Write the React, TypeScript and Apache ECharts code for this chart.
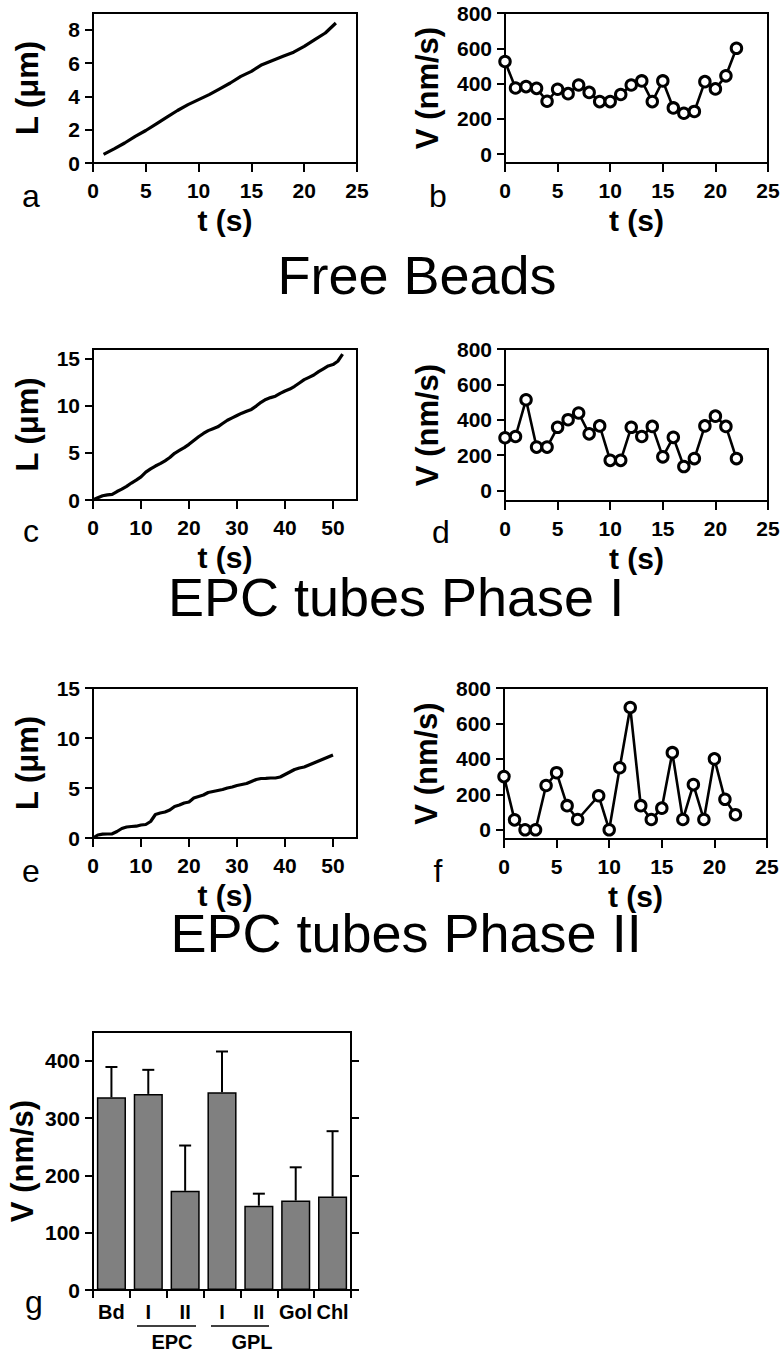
import React, { useEffect, useRef } from "react";
import * as echarts from "echarts";

// ---------- DATA ----------
// Panel a: Free Beads, L (µm) vs t (s)
const tA = [1, 2, 3, 4, 5, 6, 7, 8, 9, 10, 11, 12, 13, 14, 15, 16, 17, 18, 19, 20, 21, 22, 23];
const lA = [0.52, 0.85, 1.2, 1.6, 1.95, 2.35, 2.75, 3.15, 3.5, 3.8, 4.1, 4.45, 4.8, 5.2, 5.5, 5.9, 6.15, 6.4, 6.65, 7.0, 7.4, 7.8, 8.4];

// Panel b: Free Beads, V (nm/s) vs t (s)
const tB = [0, 1, 2, 3, 4, 5, 6, 7, 8, 9, 10, 11, 12, 13, 14, 15, 16, 17, 18, 19, 20, 21, 22];
const vB = [525, 375, 383, 373, 300, 368, 343, 392, 350, 298, 298, 338, 392, 415, 298, 415, 262, 232, 242, 411, 370, 444, 600];

// Panel c: EPC tubes Phase I, L vs t
const tC = [0, 1, 2, 3, 4, 5, 6, 7, 8, 9, 10, 11, 12, 13, 14, 15, 16, 17, 18, 19, 20, 21, 22, 23, 24, 25, 26, 27, 28, 29, 30, 31, 32, 33, 34, 35, 36, 37, 38, 39, 40, 41, 42, 43, 44, 45, 46, 47, 48, 49, 50, 51, 52];
const lC = [0, 0.25, 0.45, 0.55, 0.6, 0.9, 1.15, 1.45, 1.8, 2.1, 2.45, 2.95, 3.3, 3.6, 3.85, 4.15, 4.5, 4.95, 5.25, 5.55, 5.9, 6.3, 6.7, 7.05, 7.35, 7.55, 7.75, 8.1, 8.45, 8.7, 8.95, 9.2, 9.4, 9.6, 9.95, 10.35, 10.65, 10.85, 11.0, 11.3, 11.55, 11.75, 12.05, 12.4, 12.75, 13.0, 13.25, 13.6, 13.9, 14.2, 14.35, 14.7, 15.45];

// Panel d: EPC tubes Phase I, V vs t
const tD = [0, 1, 2, 3, 4, 5, 6, 7, 8, 9, 10, 11, 12, 13, 14, 15, 16, 17, 18, 19, 20, 21, 22];
const vD = [298, 305, 513, 245, 245, 357, 400, 438, 320, 365, 170, 170, 357, 305, 362, 190, 300, 135, 180, 365, 420, 362, 180];

// Panel e: EPC tubes Phase II, L vs t
const tE = [0, 1, 2, 3, 4, 5, 6, 7, 8, 9, 10, 11, 12, 13, 14, 15, 16, 17, 18, 19, 20, 21, 22, 23, 24, 25, 26, 27, 28, 29, 30, 31, 32, 33, 34, 35, 36, 37, 38, 39, 40, 41, 42, 43, 44, 45, 46, 47, 48, 49, 50];
const lE = [0, 0.3, 0.38, 0.4, 0.42, 0.65, 0.95, 1.1, 1.15, 1.18, 1.3, 1.35, 1.65, 2.35, 2.5, 2.6, 2.8, 3.15, 3.3, 3.5, 3.6, 4.0, 4.15, 4.3, 4.55, 4.65, 4.75, 4.85, 5.0, 5.1, 5.25, 5.35, 5.45, 5.65, 5.85, 5.95, 5.97, 6.0, 6.0, 6.1, 6.35, 6.6, 6.85, 7.0, 7.1, 7.3, 7.5, 7.7, 7.9, 8.1, 8.3];

// Panel f: EPC tubes Phase II, V vs t (no point at t = 8)
const tF = [0, 1, 2, 3, 4, 5, 6, 7, 9, 10, 11, 12, 13, 14, 15, 16, 17, 18, 19, 20, 21, 22];
const vF = [300, 56, 0, 0, 250, 322, 136, 58, 192, 0, 350, 690, 136, 58, 122, 435, 58, 255, 58, 400, 172, 85];

// Panel g: mean velocities with SD
const barCats = ["Bd", "I", "II", "I", "II", "Gol", "Chl"];
const barVals = [336, 342, 173, 345, 147, 156, 163];
const barErr = [53, 42, 79, 71, 21, 58, 114];

// Tick labels
const ticksA = [0, 2, 4, 6, 8];
const ticksLC = [0, 5, 10, 15];
const ticksV = [0, 200, 400, 600, 800];
const ticksT25 = [0, 5, 10, 15, 20, 25];
const ticksT50 = [0, 10, 20, 30, 40, 50];
const ticksG = [0, 100, 200, 300, 400];

const panelTitles = ["Free Beads", "EPC tubes Phase I", "EPC tubes Phase II"];
const panelLetters = ["a", "b", "c", "d", "e", "f", "g"];
const groupNames = ["EPC", "GPL"];

// ---------- STYLE ----------
const FONT = "'Liberation Sans', Arial, Helvetica, sans-serif";
const BLACK = "#000";

const pairs = (xs: number[], ys: number[]) => xs.map((x, i) => [x, ys[i]]);

function xAxisT(grid: number, max: number, ticks: number[]) {
  return {
    type: "value",
    gridIndex: grid,
    min: 0,
    max,
    position: "bottom",
    axisLine: { show: true, onZero: false, lineStyle: { color: BLACK, width: 2 } },
    axisTick: { show: true, inside: false, length: 9, lineStyle: { color: BLACK, width: 2 }, customValues: ticks },
    axisLabel: { color: BLACK, fontSize: 21, fontWeight: "bold", fontFamily: FONT, margin: 17, customValues: ticks },
    splitLine: { show: false },
    name: "t (s)",
    nameLocation: "middle",
    nameGap: 42,
    nameTextStyle: { color: BLACK, fontSize: 30, lineHeight: 30, fontWeight: "bold", fontFamily: FONT },
  };
}

function yAxisV(grid: number, min: number, max: number, ticks: number[], name: string, gap: number) {
  return {
    type: "value",
    gridIndex: grid,
    min,
    max,
    position: "left",
    axisLine: { show: true, onZero: false, lineStyle: { color: BLACK, width: 2 } },
    axisTick: { show: true, inside: false, length: 8, lineStyle: { color: BLACK, width: 2 }, customValues: ticks },
    axisLabel: { color: BLACK, fontSize: 21, fontWeight: "bold", fontFamily: FONT, margin: 13, customValues: ticks },
    splitLine: { show: false },
    name,
    nameLocation: "middle",
    nameGap: gap,
    nameTextStyle: { color: BLACK, fontSize: 31, lineHeight: 31, fontWeight: "bold", fontFamily: FONT },
  };
}

function lSeries(idx: number, xs: number[], ys: number[]) {
  return {
    type: "line",
    xAxisIndex: idx,
    yAxisIndex: idx,
    data: pairs(xs, ys),
    showSymbol: false,
    symbol: "none",
    lineStyle: { color: BLACK, width: 3.2 },
    z: 3,
  };
}

function vSeries(idx: number, xs: number[], ys: number[]) {
  return {
    type: "line",
    xAxisIndex: idx,
    yAxisIndex: idx,
    data: pairs(xs, ys),
    symbol: "circle",
    symbolSize: 10.5,
    showSymbol: true,
    itemStyle: { color: "#fff", borderColor: BLACK, borderWidth: 3 },
    lineStyle: { color: BLACK, width: 2.6 },
    z: 3,
  };
}

const gridBox = { show: true, borderColor: BLACK, borderWidth: 2, backgroundColor: "transparent" };

const letterPos = [
  [31, 196],
  [438, 196],
  [31, 531],
  [441, 532],
  [31, 871],
  [438, 871],
  [34, 1302],
];

export default function App() {
  const ref = useRef<HTMLDivElement>(null);

  useEffect(() => {
    if (!ref.current) return;
    const chart = echarts.init(ref.current, undefined, { renderer: "svg" });

    const graphics: any[] = [];
    panelLetters.forEach((ch, i) => {
      graphics.push({
        type: "text",
        x: letterPos[i][0],
        y: letterPos[i][1],
        style: { text: ch, fill: BLACK, font: `normal 32px ${FONT}`, align: "center", verticalAlign: "middle" },
      });
    });
    const titlePos = [
      [417, 275],
      [396, 597],
      [406, 933],
    ];
    panelTitles.forEach((t, i) => {
      graphics.push({
        type: "text",
        x: titlePos[i][0],
        y: titlePos[i][1],
        style: {
          text: t,
          fill: BLACK,
          font: `normal 54px ${FONT}`,
          lineHeight: 40,
          align: "center",
          verticalAlign: "middle",
        },
      });
    });
    // group underlines and names under bar categories
    const groupLines = [
      [137, 196],
      [211, 269],
    ];
    const groupCenters = [172, 252];
    groupNames.forEach((g, i) => {
      graphics.push({
        type: "line",
        shape: { x1: groupLines[i][0], y1: 1326, x2: groupLines[i][1], y2: 1326 },
        style: { stroke: BLACK, lineWidth: 1.5 },
      });
      graphics.push({
        type: "text",
        x: groupCenters[i],
        y: 1342,
        style: { text: g, fill: BLACK, font: `bold 20px ${FONT}`, align: "center", verticalAlign: "middle" },
      });
    });

    const option: any = {
      animation: false,
      backgroundColor: "#fff",
      textStyle: { fontFamily: FONT },
      grid: [
        { left: 93, top: 13, width: 264, height: 150, ...gridBox },
        { left: 505, top: 13, width: 263, height: 150, ...gridBox },
        { left: 93, top: 349, width: 264, height: 151, ...gridBox },
        { left: 505, top: 349, width: 263, height: 152, ...gridBox },
        { left: 93, top: 688, width: 264, height: 150, ...gridBox },
        { left: 504, top: 688, width: 263, height: 151, ...gridBox },
        { left: 93, top: 1032, width: 258, height: 258, ...gridBox },
      ],
      xAxis: [
        xAxisT(0, 25, ticksT25),
        xAxisT(1, 25, ticksT25),
        xAxisT(2, 55, ticksT50),
        xAxisT(3, 25, ticksT25),
        xAxisT(4, 55, ticksT50),
        xAxisT(5, 25, ticksT25),
        {
          type: "category",
          gridIndex: 6,
          data: barCats,
          boundaryGap: true,
          position: "bottom",
          axisLine: { show: true, onZero: false, lineStyle: { color: BLACK, width: 2 } },
          axisTick: { show: true, inside: false, length: 8, alignWithLabel: false, lineStyle: { color: BLACK, width: 2 } },
          axisLabel: { color: BLACK, fontSize: 20, fontWeight: "bold", fontFamily: FONT, margin: 12, interval: 0 },
          splitLine: { show: false },
        },
      ],
      yAxis: [
        yAxisV(0, 0, 9, ticksA, "L (μm)", 50),
        yAxisV(1, -50, 800, ticksV, "V (nm/s)", 62),
        yAxisV(2, 0, 16, ticksLC, "L (μm)", 50),
        yAxisV(3, -60, 800, ticksV, "V (nm/s)", 62),
        yAxisV(4, 0, 15, ticksLC, "L (μm)", 50),
        yAxisV(5, -52, 800, ticksV, "V (nm/s)", 62),
        yAxisV(6, 0, 450, ticksG, "V (nm/s)", 55),
        {
          type: "value",
          gridIndex: 6,
          min: 0,
          max: 450,
          position: "right",
          axisLine: { show: true, onZero: false, lineStyle: { color: BLACK, width: 2 } },
          axisTick: { show: true, inside: false, length: 8, lineStyle: { color: BLACK, width: 2 }, customValues: ticksG },
          axisLabel: { show: false },
          splitLine: { show: false },
        },
      ],
      series: [
        lSeries(0, tA, lA),
        vSeries(1, tB, vB),
        lSeries(2, tC, lC),
        vSeries(3, tD, vD),
        lSeries(4, tE, lE),
        vSeries(5, tF, vF),
        {
          type: "bar",
          xAxisIndex: 6,
          yAxisIndex: 6,
          data: barVals,
          barCategoryGap: "21%",
          itemStyle: { color: "#808080", borderColor: BLACK, borderWidth: 1.5 },
          z: 2,
        },
        {
          type: "custom",
          xAxisIndex: 6,
          yAxisIndex: 6,
          data: barVals.map((v, i) => [i, v, barErr[i]]),
          encode: { x: 0, y: 1 },
          z: 3,
          renderItem: (params: any, api: any) => {
            const i = api.value(0);
            const v = api.value(1);
            const e = api.value(2);
            const p0 = api.coord([i, v]);
            const p1 = api.coord([i, v + e]);
            const hw = 6;
            return {
              type: "group",
              children: [
                { type: "line", shape: { x1: p0[0], y1: p0[1], x2: p1[0], y2: p1[1] }, style: { stroke: BLACK, lineWidth: 2 } },
                { type: "line", shape: { x1: p1[0] - hw, y1: p1[1], x2: p1[0] + hw, y2: p1[1] }, style: { stroke: BLACK, lineWidth: 2 } },
              ],
            };
          },
        },
      ],
      graphic: graphics,
    };

    chart.setOption(option);
    return () => chart.dispose();
  }, []);

  return (
    <div
      ref={ref}
      style={{ position: "absolute", left: 0, top: 0, width: 783, height: 1352, background: "#fff" }}
    />
  );
}
